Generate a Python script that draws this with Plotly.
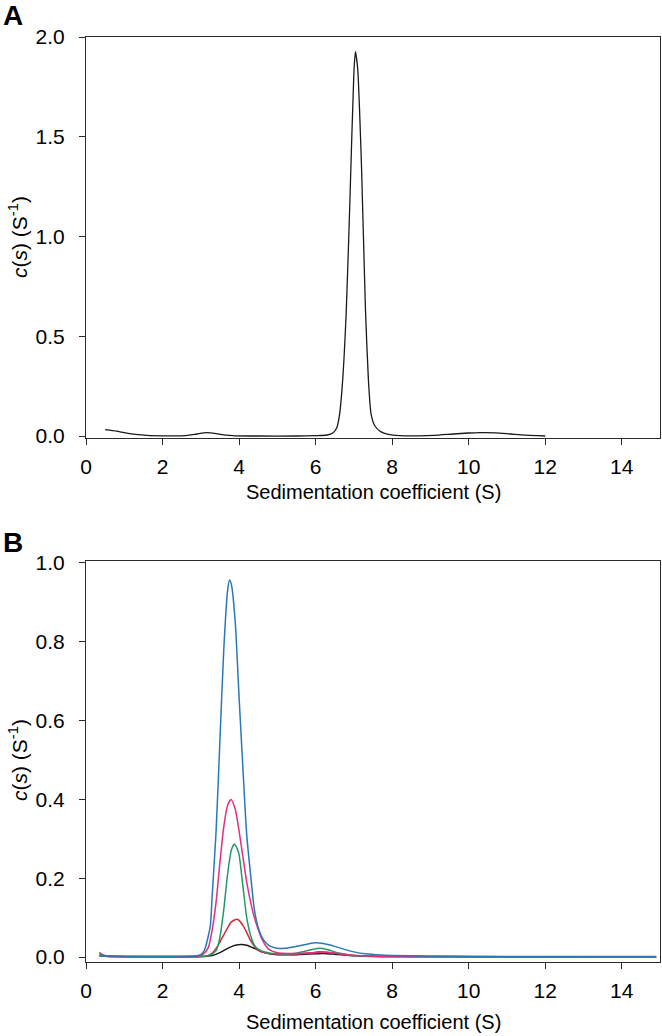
import plotly.graph_objects as go

# ---------------- Panel A data ----------------
s_A = [0.5, 0.8, 1.0, 1.3, 1.6, 2.0, 2.5, 2.7, 2.9, 3.15, 3.4, 3.65, 3.9, 4.5, 5.5, 6.0, 6.3, 6.45,
       6.55, 6.62, 6.7, 6.8, 6.9, 7.0, 7.04, 7.1, 7.2, 7.3, 7.38, 7.45, 7.55, 7.7, 7.9, 8.2,
       8.7, 9.1, 9.6, 10.0, 10.3, 10.7, 11.1, 11.5, 12.0]
c_A = [0.032, 0.024, 0.017, 0.008, 0.003, 0.001, 0.001, 0.004, 0.010, 0.017, 0.012, 0.004, 0.001, 0.0, 0.0, 0.002, 0.005, 0.015,
       0.04, 0.10, 0.26, 0.62, 1.20, 1.82, 1.926, 1.84, 1.35, 0.65, 0.28, 0.11, 0.05, 0.022, 0.008, 0.002,
       0.001, 0.003, 0.010, 0.015, 0.017, 0.016, 0.010, 0.004, 0.0]

# ---------------- Panel B data ----------------
s_blue = [0.35, 0.45, 0.6, 1.0, 2.0, 2.9, 3.0, 3.1, 3.2, 3.25, 3.3, 3.4, 3.5, 3.6, 3.7, 3.75, 3.8, 3.9,
          4.0, 4.1, 4.2, 4.3, 4.4, 4.5, 4.6, 4.7, 4.8, 5.0, 5.2, 5.5, 5.8, 6.0, 6.2, 6.5, 6.8, 7.0,
          7.3, 7.7, 8.0, 9.0, 10.0, 12.0, 14.9]
c_blue = [0.008, 0.004, 0.003, 0.002, 0.002, 0.003, 0.006, 0.018, 0.055, 0.08, 0.16, 0.32, 0.55, 0.78, 0.93, 0.957, 0.945, 0.85,
          0.66, 0.48, 0.31, 0.21, 0.12, 0.075, 0.05, 0.036, 0.028, 0.022, 0.022, 0.027, 0.033, 0.036, 0.034, 0.027, 0.018, 0.013,
          0.008, 0.005, 0.004, 0.002, 0.0015, 0.001, 0.001]

s_pink = [0.35, 0.4, 0.5, 0.8, 2.8, 3.0, 3.1, 3.2, 3.3, 3.4, 3.5, 3.6, 3.7, 3.79, 3.9, 4.0, 4.1, 4.2,
          4.3, 4.4, 4.5, 4.6, 4.7, 4.8, 5.0, 5.3, 5.6, 6.0, 6.2, 6.5, 6.8, 7.2, 8.0, 14.9]
c_pink = [0.012, 0.008, 0.004, 0.002, 0.002, 0.004, 0.010, 0.025, 0.07, 0.14, 0.24, 0.33, 0.385, 0.40, 0.375, 0.32, 0.255, 0.19,
          0.14, 0.10, 0.07, 0.045, 0.028, 0.018, 0.011, 0.009, 0.009, 0.011, 0.012, 0.010, 0.006, 0.003, 0.001, 0.0]

s_green = [0.35, 0.5, 3.0, 3.2, 3.3, 3.4, 3.5, 3.6, 3.7, 3.8, 3.88, 3.95, 4.0, 4.1, 4.2, 4.3, 4.4, 4.5,
           4.7, 5.0, 5.4, 5.7, 6.0, 6.1, 6.3, 6.6, 7.0, 7.5, 8.5, 14.9]
c_green = [0.004, 0.002, 0.001, 0.004, 0.008, 0.016, 0.05, 0.12, 0.21, 0.272, 0.287, 0.275, 0.26, 0.18, 0.10, 0.055, 0.03, 0.02,
           0.012, 0.008, 0.008, 0.014, 0.021, 0.022, 0.019, 0.010, 0.004, 0.002, 0.001, 0.0]

s_red = [0.35, 0.5, 3.0, 3.2, 3.3, 3.4, 3.5, 3.6, 3.7, 3.8, 3.94, 4.0, 4.1, 4.2, 4.3, 4.4, 4.5, 4.7,
         5.0, 5.5, 5.9, 6.1, 6.4, 6.8, 7.2, 8.0, 14.9]
c_red = [0.004, 0.002, 0.001, 0.004, 0.010, 0.022, 0.038, 0.056, 0.074, 0.089, 0.096, 0.093, 0.08, 0.062, 0.042, 0.027, 0.017, 0.010,
         0.007, 0.007, 0.011, 0.013, 0.011, 0.006, 0.003, 0.001, 0.0]

s_black = [0.35, 0.5, 3.0, 3.3, 3.5, 3.7, 3.9, 4.06, 4.2, 4.4, 4.6, 4.8, 5.0, 5.5, 6.0, 6.2, 6.5, 7.0, 7.5, 14.9]
c_black = [0.003, 0.002, 0.001, 0.004, 0.011, 0.022, 0.030, 0.032, 0.030, 0.022, 0.013, 0.008, 0.006, 0.006, 0.008, 0.009, 0.007, 0.003, 0.001, 0.0]

x_ticks = [0, 2, 4, 6, 8, 10, 12, 14]
yA_ticks = [0.0, 0.5, 1.0, 1.5, 2.0]
yB_ticks = [0.0, 0.2, 0.4, 0.6, 0.8, 1.0]

FONT = "Liberation Sans, Arial, sans-serif"
AX = "#2b2b2b"

fig = go.Figure()

fig.add_trace(go.Scatter(x=s_A, y=c_A, mode="lines", line=dict(color="#1a1a1a", width=1.3, shape="spline", smoothing=0.6),
                         xaxis="x", yaxis="y", showlegend=False))

series_B = [
    (s_black, c_black, "#1a1a1a"),
    (s_red, c_red, "#cc2b3b"),
    (s_green, c_green, "#23996a"),
    (s_pink, c_pink, "#e3307e"),
    (s_blue, c_blue, "#2a78b8"),
]
for sx, cy, col in series_B:
    fig.add_trace(go.Scatter(x=sx, y=cy, mode="lines", line=dict(color=col, width=1.5, shape="spline", smoothing=0.6),
                             xaxis="x2", yaxis="y2", showlegend=False))

H = 1036.0
axis_common = dict(showline=True, mirror=True, linecolor=AX, linewidth=1, ticks="outside", ticklen=6,
                   tickcolor=AX, tickwidth=1, showgrid=False, zeroline=False, automargin=False,
                   tickfont=dict(family=FONT, size=21, color="black"))

fig.update_layout(
    width=662, height=1036, autosize=False,
    margin=dict(l=86, r=2, t=0, b=0, pad=0),
    paper_bgcolor="white", plot_bgcolor="white",
    font=dict(family=FONT, color="black"),
    xaxis=dict(domain=[0, 1], anchor="y", range=[0, 15], tickvals=x_ticks, ticklabelstandoff=4, **axis_common),
    yaxis=dict(domain=[1 - 438 / H, 1 - 36.5 / H], anchor="x", range=[-0.01, 2.0025], tickvals=yA_ticks,
               tickformat=".1f", ticklabelstandoff=10, **axis_common),
    xaxis2=dict(domain=[0, 1], anchor="y2", range=[0, 15], tickvals=x_ticks, ticklabelstandoff=4, **axis_common),
    yaxis2=dict(domain=[1 - 962 / H, 1 - 560.5 / H], anchor="x2", range=[-0.0127, 1.0063], tickvals=yB_ticks,
                tickformat=".1f", ticklabelstandoff=10, **axis_common),
)

ann = []
# x axis titles
ann.append(dict(text="Sedimentation coefficient (S)", x=0.5, y=1 - 492 / H, xref="paper", yref="paper",
                showarrow=False, font=dict(family=FONT, size=20, color="black"), xanchor="center", yanchor="middle"))
ann.append(dict(text="Sedimentation coefficient (S)", x=0.5, y=1 - 1022 / H, xref="paper", yref="paper",
                showarrow=False, font=dict(family=FONT, size=20, color="black"), xanchor="center", yanchor="middle"))
# y axis titles
ytitle = "<i>c</i>(<i>s</i>) (S<sup>-1</sup>)"
ann.append(dict(text=ytitle, x=(18 - 86) / 574, y=1 - 237 / H, xref="paper", yref="paper", textangle=-90,
                showarrow=False, font=dict(family=FONT, size=21, color="black"), xanchor="center", yanchor="middle"))
ann.append(dict(text=ytitle, x=(18 - 86) / 574, y=1 - 760 / H, xref="paper", yref="paper", textangle=-90,
                showarrow=False, font=dict(family=FONT, size=21, color="black"), xanchor="center", yanchor="middle"))
# panel letters
ann.append(dict(text="<b>A</b>", x=(13 - 86) / 574, y=1 - 15 / H, xref="paper", yref="paper",
                showarrow=False, font=dict(family=FONT, size=28, color="black"), xanchor="center", yanchor="middle"))
ann.append(dict(text="<b>B</b>", x=(13 - 86) / 574, y=1 - 542 / H, xref="paper", yref="paper",
                showarrow=False, font=dict(family=FONT, size=28, color="black"), xanchor="center", yanchor="middle"))
fig.update_layout(annotations=ann)

fig.write_html("out.html", config={"displayModeBar": False},
               post_script="document.body.style.margin='0';document.body.style.overflow='hidden';")
